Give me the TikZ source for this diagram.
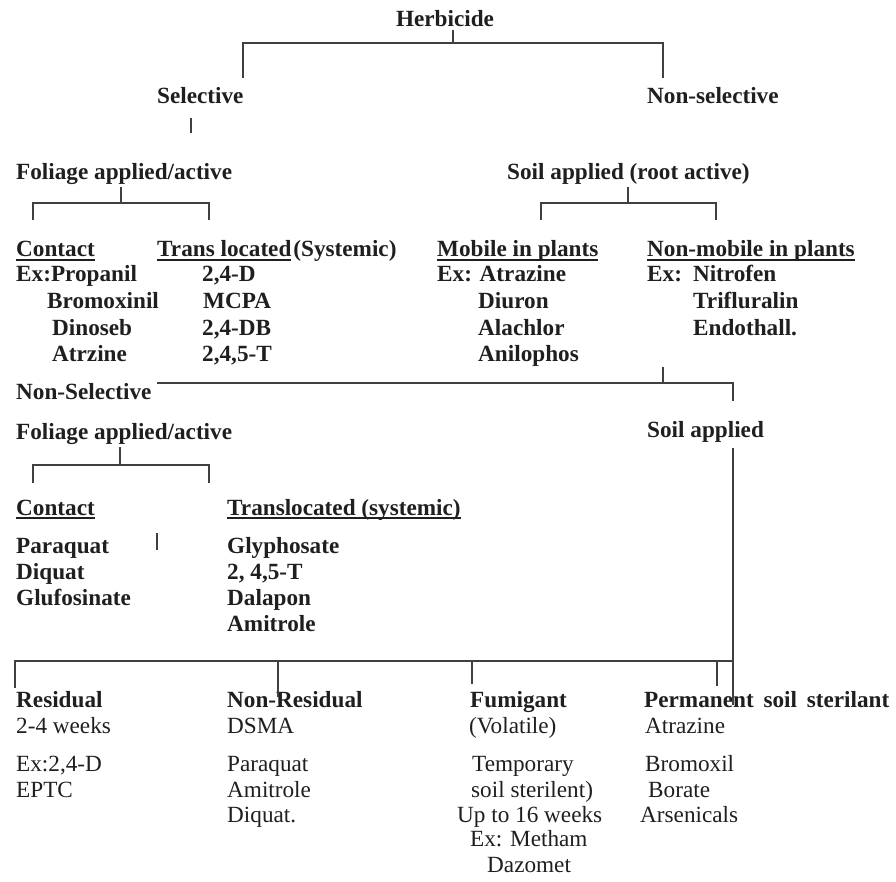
\documentclass[tikz,border=0pt]{standalone}
\usepackage{fontspec}
\setmainfont{Liberation Serif}
\newcommand\ulx[1]{\setbox0=\hbox{#1}\rlap{\rule[-4pt]{\wd0}{2pt}}\box0}
\begin{document}
\begin{tikzpicture}[x=1pt,y=-1pt,
  t/.style={inner sep=0pt,anchor=base west,font=\fontsize{23.2}{26}\selectfont,text=black!88},
  tb/.style={t,font=\fontsize{23.2}{26}\selectfont\bfseries},
  ln/.style={draw=black!75,line width=1.5pt}]
\fill[white] (0,0) rectangle (896,882);
\useasboundingbox (0,0) rectangle (896,882);
% ---------- top ----------
\node[tb,anchor=base] (herb) at (445,27) {Herbicide};
\node[tb] (sel) at (157,104) {Selective};
\node[tb] (nsel) at (647,104) {Non-selective};
\node[tb] (fol1) at (16,180) {Foliage applied/active};
\node[tb] (soil1) at (507,180) {Soil applied (root active)};
\node[tb] (con1) at (16,257) {\ulx{Contact}};
\node[tb] (tra1) at (157,257) {\ulx{Trans located}\hspace{2pt}(Systemic)};
\node[tb] (mob) at (437,257) {\ulx{Mobile in plants}};
\node[tb] (nmob) at (647,257) {\ulx{Non-mobile in plants}};
% lists
\node[tb] (a1) at (16,282) {Ex:Propanil};
\node[tb] (a2) at (47,308.5) {Bromoxinil};
\node[tb] (a3) at (52,335) {Dinoseb};
\node[tb] (a4) at (52,361.5) {Atrzine};
\node[tb] (b1) at (202,282) {2,4-D};
\node[tb] (b2) at (203,308.5) {MCPA};
\node[tb] (b3) at (202,335) {2,4-DB};
\node[tb] (b4) at (202,361.5) {2,4,5-T};
\node[tb] (c1) at (437,282) {Ex: Atrazine};
\node[tb] (c2) at (478,308.5) {Diuron};
\node[tb] (c3) at (478,335) {Alachlor};
\node[tb] (c4) at (478,361.5) {Anilophos};
\node[tb] (d1) at (647,282) {Ex:\hspace{11pt}Nitrofen};
\node[tb] (d2) at (693,308.5) {Trifluralin};
\node[tb] (d3) at (693,335) {Endothall.};
% ---------- middle ----------
\node[tb] (nsel2) at (16,399) {Non-Selective};
\node[tb] (fol2) at (16,439) {Foliage applied/active};
\node[tb] (soil2) at (647,437) {Soil applied};
\node[tb] (con2) at (16,515) {\ulx{Contact}};
\node[tb] (tra2) at (227,515) {\ulx{Translocated (systemic)}};
\node[tb] (e1) at (16,553) {Paraquat};
\node[tb] (e2) at (16,579) {Diquat};
\node[tb] (e3) at (16,605) {Glufosinate};
\node[tb] (f1) at (227,553) {Glyphosate};
\node[tb] (f2) at (227,579) {2, 4,5-T};
\node[tb] (f3) at (227,605) {Dalapon};
\node[tb] (f4) at (227,631) {Amitrole};
% ---------- bottom ----------
\node[tb] (r0) at (16,707) {Residual};
\node[t]  (r1) at (16,733) {2-4 weeks};
\node[t]  (r2) at (16,771) {Ex:2,4-D};
\node[t]  (r3) at (16,797) {EPTC};
\node[tb] (n0) at (227,707) {Non-Residual};
\node[t]  (n1) at (227,733) {DSMA};
\node[t]  (n2) at (227,771) {Paraquat};
\node[t]  (n3) at (227,797) {Amitrole};
\node[t]  (n4) at (227,822) {Diquat.};
\node[tb] (g0) at (470,707) {Fumigant};
\node[t]  (g1) at (469,733) {(Volatile)};
\node[t]  (g2) at (472,771) {Temporary};
\node[t]  (g3) at (471,797) {soil sterilent)};
\node[t]  (g4) at (457,822) {Up to 16 weeks};
\node[t]  (g5) at (470,846) {Ex: Metham};
\node[t]  (g6) at (487,872) {Dazomet};
\node[tb] (p0) at (644,707) {Permanent\hspace{4pt} soil\hspace{4pt} sterilant};
\node[t]  (p1) at (645,733) {Atrazine};
\node[t]  (p2) at (645,771) {Bromoxil};
\node[t]  (p3) at (648,797) {Borate};
\node[t]  (p4) at (640,822) {Arsenicals};
% ---------- connectors ----------
\coordinate (h0) at (453,30); \coordinate (h1) at (453,43);
\coordinate (hL) at (243,43); \coordinate (hR) at (663,43);
\coordinate (hLd) at (243,78); \coordinate (hRd) at (663,78);
\draw[ln] (h0) -- (h1);
\draw[ln] (hLd) -- (hL) -- (hR) -- (hRd);
\coordinate (s0) at (191,118); \coordinate (s1) at (191,133);
\draw[ln,line width=1.2pt] (s0) -- (s1);
\coordinate (f0) at (121,187); \coordinate (f1j) at (121,203);
\coordinate (fL) at (33,203); \coordinate (fR) at (209,203);
\coordinate (fLd) at (33,220); \coordinate (fRd) at (209,220);
\draw[ln] (f0) -- (f1j);
\draw[ln] (fLd) -- (fL) -- (fR) -- (fRd);
\coordinate (k0) at (628,187); \coordinate (k1) at (628,203);
\coordinate (kL) at (541,203); \coordinate (kR) at (716,203);
\coordinate (kLd) at (541,220); \coordinate (kRd) at (716,220);
\draw[ln] (k0) -- (k1);
\draw[ln] (kLd) -- (kL) -- (kR) -- (kRd);
\coordinate (m0) at (157,383); \coordinate (m1) at (733,383); \coordinate (m2) at (733,401);
\coordinate (mt0) at (663,367); \coordinate (mt1) at (663,383);
\draw[ln] (m0) -- (m1) -- (m2);
\draw[ln] (mt0) -- (mt1);
\coordinate (q0) at (120,447); \coordinate (q1) at (120,465);
\coordinate (qL) at (33,465); \coordinate (qR) at (209,465);
\coordinate (qLd) at (33,483); \coordinate (qRd) at (209,483);
\draw[ln] (q0) -- (q1);
\draw[ln] (qLd) -- (qL) -- (qR) -- (qRd);
\coordinate (st0) at (157,533); \coordinate (st1) at (157,550);
\draw[ln,line width=1.2pt] (st0) -- (st1);
\coordinate (v0) at (733,448); \coordinate (v1) at (733,705);
\draw[ln] (v0) -- (v1);
\coordinate (bL) at (15,661); \coordinate (bR) at (733,661);
\coordinate (bLd) at (15,688);
\draw[ln] (bLd) -- (bL) -- (bR);
\coordinate (t1) at (278,661); \coordinate (t1d) at (278,697);
\coordinate (t2) at (472,661); \coordinate (t2d) at (472,684);
\coordinate (t3) at (717,661); \coordinate (t3d) at (717,686);
\draw[ln] (t1) -- (t1d);
\draw[ln] (t2) -- (t2d);
\draw[ln] (t3) -- (t3d);
\end{tikzpicture}
\end{document}
